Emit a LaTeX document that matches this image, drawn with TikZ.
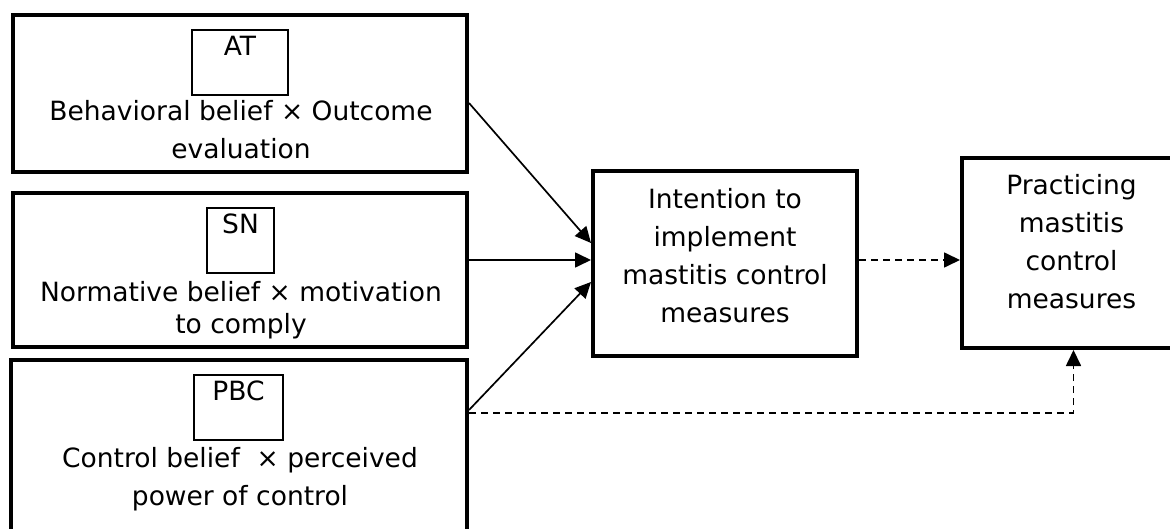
\documentclass[tikz,border=0pt]{standalone}
\usepackage{fontspec}
\setmainfont{DejaVu Sans}
\usetikzlibrary{arrows.meta, positioning}

\begin{document}
\begin{tikzpicture}[x=1pt,y=-1pt]
		\tikzset{bigbox/.style={draw, line width=4pt, inner sep=0}}
		\tikzset{tagbox/.style={draw, line width=1.6pt, inner sep=0, anchor=north, text height=26pt, text depth=39pt, font=\fontsize{26.5}{38}\selectfont}}
		\tikzset{txt/.style={align=center, inner sep=0, font=\fontsize{26.5}{38}\selectfont}}
		\tikzset{ar/.style={-{Triangle[length=16pt,width=15pt]}, line width=1.7pt}}
		\tikzset{dar/.style={ar, dash pattern=on 7pt off 5pt}}
		\useasboundingbox (0,0) rectangle (1170,529);
		% left column
		\node[bigbox, minimum width=454pt, minimum height=157pt] (atbox) at (240,93.5) {};
		\node[bigbox, minimum width=454pt, minimum height=154pt] (snbox) at (240,270) {};
		\node[bigbox, minimum width=456pt, minimum height=180pt] (pbcbox) at (239,450) {};
		\node[tagbox, minimum width=96pt] (attag) at (240,29) {AT};
		\node[tagbox, minimum width=67pt] (sntag) at (240.5,207) {SN};
		\node[tagbox, minimum width=89pt] (pbctag) at (238.5,374) {PBC};
		\node[txt] (attxt) at (241,130) {Behavioral belief × Outcome\\evaluation};
		\node[txt, font=\fontsize{26.5}{32}\selectfont] (sntxt) at (241,310) {Normative belief × motivation\\to comply};
		\node[txt] (pbctxt) at (240,479) {Control belief \ × perceived\\power of control};
		% right side
		\node[bigbox, minimum width=264pt, minimum height=185pt] (intbox) at (725,263.5) {};
		\node[bigbox, minimum width=219pt, minimum height=190pt] (pracbox) at (1071.5,253) {};
		\node[txt] (inttxt) at (725,255.5) {Intention to\\implement\\mastitis control\\measures};
		\node[txt] (practxt) at (1071.5,241.5) {Practicing\\mastitis\\control\\measures};
		% connectors
		\draw[ar] ([yshift=-9.5pt]atbox.east) -- ([yshift=20.5pt]intbox.west);
		\draw[ar] ([yshift=10pt]snbox.east) -- ([yshift=3.5pt]intbox.west);
		\draw[ar] ([yshift=40pt]pbcbox.east) -- ([yshift=-18.5pt]intbox.west);
		\draw[dar] ([yshift=3.5pt]intbox.east) -- ([yshift=-7pt]pracbox.west);
		\draw[dar] ([yshift=37.3pt]pbcbox.east) -| ([xshift=2pt]pracbox.south);
\end{tikzpicture}
\end{document}
